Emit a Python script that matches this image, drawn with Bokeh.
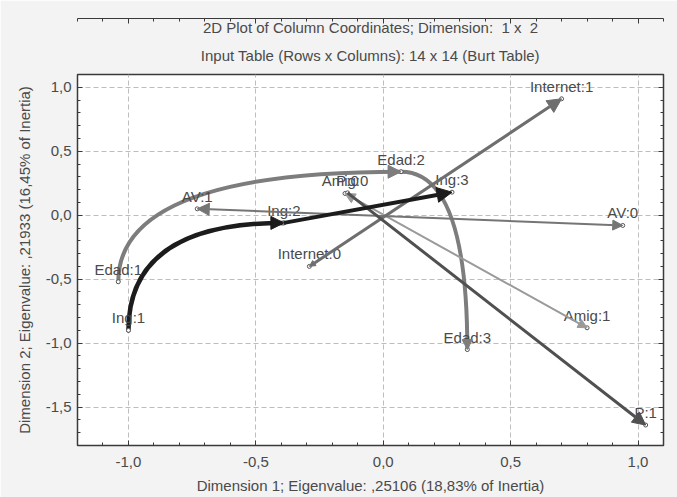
from bokeh.plotting import figure
from bokeh.models import (Arrow, NormalHead, FixedTicker, LinearAxis, Title,
                          ColumnDataSource, Range1d)
from bokeh.embed import file_html
from bokeh.resources import INLINE
from bokeh.core.properties import value

# ---------------- data ----------------
categories = ["Edad:1", "Edad:2", "Edad:3", "Ing:1", "Ing:2", "Ing:3",
              "Amig:0", "Amig:1", "AV:0", "AV:1", "Internet:0", "Internet:1",
              "P:0", "P:1"]
dim1 = [-1.04, 0.07, 0.33, -1.00, -0.39, 0.27,
        -0.15, 0.80, 0.94, -0.73, -0.29, 0.70,
        -0.14, 1.03]
dim2 = [-0.52, 0.34, -1.05, -0.90, -0.06, 0.18,
        0.17, -0.88, -0.08, 0.05, -0.40, 0.91,
        0.175, -1.64]

x_ticks = [-1.0, -0.5, 0.0, 0.5, 1.0]
x_tick_labels = ["-1,0", "-0,5", "0,0", "0,5", "1,0"]
y_ticks = [-1.5, -1.0, -0.5, 0.0, 0.5, 1.0]
y_tick_labels = ["-1,5", "-1,0", "-0,5", "0,0", "0,5", "1,0"]

title_line1 = "2D Plot of Column Coordinates; Dimension:  1 x  2"
title_line2 = "Input Table (Rows x Columns): 14 x 14 (Burt Table)"
x_label = "Dimension 1; Eigenvalue: ,25106 (18,83% of Inertia)"
y_label = "Dimension 2; Eigenvalue: ,21933 (16,45% of Inertia)"

pos = {c: (x, y) for c, x, y in zip(categories, dim1, dim2)}

FONT = "Liberation Sans"
TXT = "#4a4a4a"
FS = "15px"
MINORS = [round(-2.0 + 0.1 * i, 2) for i in range(41)]

p = figure(frame_width=586, frame_height=371,
           x_range=Range1d(-1.2, 1.1), y_range=Range1d(-1.8, 1.1),
           output_backend="svg", toolbar_location=None,
           min_border_left=77, min_border_right=14,
           min_border_top=74, min_border_bottom=52)
p.border_fill_color = "#f3f3f3"
p.background_fill_color = "white"
p.outline_line_color = "#3a3a3a"
p.outline_line_width = 1.5

# titles (nearest to frame first)
p.title.visible = False
t2 = Title(text=title_line2, align="center", text_font=FONT,
           text_font_size=FS, text_font_style="normal",
           text_color=TXT, standoff=22)
t1 = Title(text=title_line1.replace("  ", " \u00a0"), align="center",
           text_font=FONT, text_font_size=FS, text_font_style="normal",
           text_color=TXT, standoff=-4)
p.add_layout(t2, "above")
p.add_layout(t1, "above")

# axes
for ax, ticks, labels in ((p.xaxis[0], x_ticks, x_tick_labels),
                          (p.yaxis[0], y_ticks, y_tick_labels)):
    ax.ticker = FixedTicker(ticks=ticks, minor_ticks=MINORS)
    ax.major_label_overrides = {t: l for t, l in zip(ticks, labels)}
    ax.major_label_text_font = FONT
    ax.major_label_text_font_size = FS
    ax.major_label_text_color = TXT
    ax.axis_label_text_font = FONT
    ax.axis_label_text_font_size = FS
    ax.axis_label_text_font_style = "normal"
    ax.axis_label_text_color = TXT
    ax.axis_line_color = "#3a3a3a"
    ax.major_tick_line_color = "#3a3a3a"
    ax.minor_tick_line_color = "#3a3a3a"
    ax.major_tick_in = 5
    ax.major_tick_out = 0
    ax.minor_tick_in = 3
    ax.minor_tick_out = 0

p.xaxis.axis_label = x_label
p.yaxis.axis_label = y_label
p.xaxis.major_label_standoff = 11
p.xaxis.axis_label_standoff = 7
p.yaxis.major_label_standoff = 6
p.yaxis.axis_label_standoff = 10

for side, ticks in (("above", x_ticks), ("right", y_ticks)):
    ax = LinearAxis(ticker=FixedTicker(ticks=ticks, minor_ticks=MINORS))
    ax.major_label_overrides = {t: "" for t in ticks}
    ax.major_label_text_font_size = "1px"
    ax.major_label_standoff = 0
    ax.axis_line_color = "#3a3a3a"
    ax.major_tick_line_color = "#3a3a3a"
    ax.minor_tick_line_color = "#3a3a3a"
    ax.major_tick_in = 5
    ax.major_tick_out = 0
    ax.minor_tick_in = 3
    ax.minor_tick_out = 0
    p.add_layout(ax, side)

p.xgrid.ticker = FixedTicker(ticks=x_ticks)
p.ygrid.ticker = FixedTicker(ticks=y_ticks)
p.grid.grid_line_color = "#bdbdbd"
p.grid.grid_line_dash = "5 3"
p.grid.grid_line_width = 1

# ---------------- straight pair lines ----------------
def arrow(a, b, color, width, end_size=None, start_size=None):
    (xa, ya), (xb, yb) = pos[a], pos[b]
    kw = {}
    kw["end"] = (NormalHead(size=end_size, fill_color=color, line_color=color)
                 if end_size else None)
    kw["start"] = (NormalHead(size=start_size, fill_color=color, line_color=color)
                   if start_size else None)
    p.add_layout(Arrow(x_start=xa, y_start=ya, x_end=xb, y_end=yb,
                       line_color=color, line_width=width, **kw))

arrow("Amig:0", "Amig:1", "#9a9a9a", 2, end_size=9, start_size=10)
arrow("AV:1", "AV:0", "#757575", 2, end_size=10, start_size=12)
arrow("Internet:0", "Internet:1", "#6e6e6e", 3, end_size=14, start_size=6)
arrow("P:0", "P:1", "#505050", 3, end_size=13)

# ---------------- curved trajectories ----------------
def curve(a, b, mode, color, width, head):
    (xa, ya), (xb, yb) = pos[a], pos[b]
    if mode == "vh":      # leave vertically, arrive horizontally
        cx, cy = xa, yb
    else:                 # leave horizontally, arrive vertically
        cx, cy = xb, ya
    src = ColumnDataSource(dict(x0=[xa], y0=[ya], x1=[xb], y1=[yb],
                                cx=[cx], cy=[cy]))
    p.quadratic(x0="x0", y0="y0", x1="x1", y1="y1", cx="cx", cy="cy",
                source=src, line_color=color, line_width=width,
                line_cap="round")
    f = 0.03
    p.add_layout(Arrow(x_start=xb + f * (cx - xb), y_start=yb + f * (cy - yb),
                       x_end=xb, y_end=yb, line_color=None,
                       end=NormalHead(size=head, fill_color=color,
                                      line_color=color)))

curve("Edad:1", "Edad:2", "vh", "#7d7d7d", 4, 13)
curve("Edad:2", "Edad:3", "hv", "#7d7d7d", 4, 10)
curve("Ing:1", "Ing:2", "vh", "#1c1c1c", 4.5, 13)
arrow("Ing:2", "Ing:3", "#1c1c1c", 4, end_size=15)

# ---------------- points & labels ----------------
src = ColumnDataSource(dict(x=dim1, y=dim2, name=categories))
p.scatter("x", "y", source=src, marker="circle", size=4,
          line_color="#555555", fill_color="white", line_width=1)
p.text("x", "y", text="name", source=src, text_align="center",
       text_baseline="bottom", y_offset=-4, text_font=value(FONT),
       text_font_size=FS, text_color=TXT)

open("out.html", "w").write(file_html(p, INLINE))
